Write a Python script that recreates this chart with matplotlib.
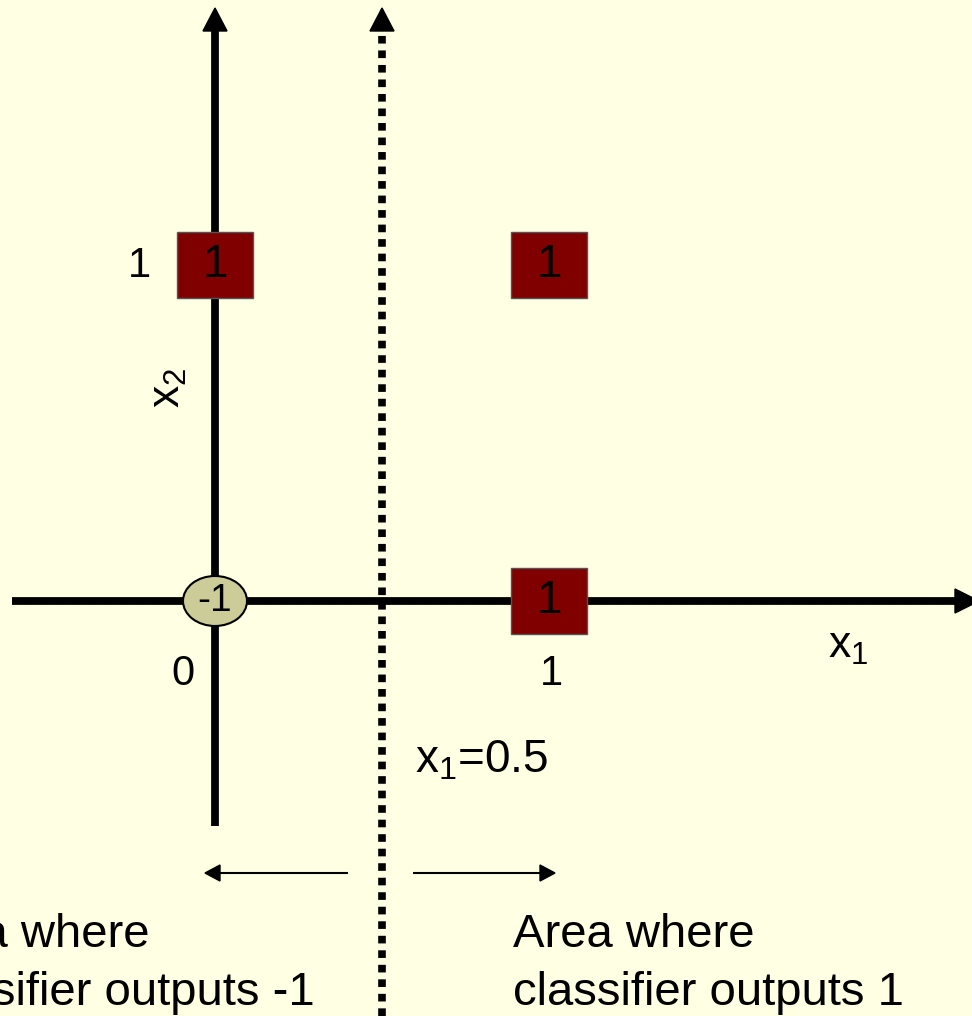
import matplotlib
matplotlib.use("Agg")
import matplotlib.pyplot as plt
from matplotlib.patches import Rectangle, Ellipse, Polygon
import numpy as np

plt.rcParams['font.family'] = ['Liberation Sans', 'DejaVu Sans']
plt.rcParams['mathtext.fontset'] = 'custom'
plt.rcParams['mathtext.rm'] = 'Liberation Sans'
plt.rcParams['mathtext.it'] = 'Liberation Sans'

# ── data: the four inputs and what the classifier outputs ──
x1_vals = [0, 0, 1, 1]
x2_vals = [0, 1, 0, 1]
targets = [-1, 1, 1, 1]
boundary_x1 = 0.5
xtick_vals = [0, 1]
xtick_labels = ["0", "1"]
ytick_vals = [1]
ytick_labels = ["1"]
left_text = ["Area where", "classifier outputs -1"]
right_text = ["Area where", "classifier outputs 1"]

BG = "#FFFFE3"
POS_COLOR = "#800000"
NEG_COLOR = "#CCCC99"

W, H = 972, 1016
X0, Y0 = 215, 601      # pixel of the origin
UX, UY = 334, 336      # pixels per unit

fig = plt.figure(figsize=(W / 100, H / 100), dpi=100)
fig.patch.set_facecolor(BG)
ax = fig.add_axes([0, 0, 1, 1])
ax.set_facecolor(BG)
ax.set_xlim(-X0 / UX, (W - X0) / UX)
ax.set_ylim((Y0 - H) / UY, Y0 / UY)
ax.axis("off")


def px(xp, yp):
    return (xp - X0) / UX, (Y0 - yp) / UY


def arrow(start, end, lw, hl, hw, ls="-", zorder=2):
    # head geometry is worked out in pixel units
    p0 = np.array([start[0] * UX, start[1] * UY])
    p1 = np.array([end[0] * UX, end[1] * UY])
    d = (p1 - p0) / np.hypot(*(p1 - p0))
    n = np.array([-d[1], d[0]])
    base = p1 - d * hl
    ax.plot([p0[0] / UX, base[0] / UX], [p0[1] / UY, base[1] / UY],
            color="black", lw=lw, ls=ls, solid_capstyle="butt",
            dash_capstyle="butt", zorder=zorder)
    tri = np.array([p1, base + n * hw, base - n * hw]) / [UX, UY]
    ax.add_patch(Polygon(tri, closed=True, color="black", zorder=zorder))


# axes
arrow(px(12, Y0), px(979, Y0), lw=5.6, hl=24, hw=12)
arrow(px(X0, 826), px(X0, 8), lw=5.6, hl=23, hw=12)

# decision boundary x1 = 0.5
arrow((boundary_x1, px(0, H)[1]), (boundary_x1, px(0, 8)[1]),
      lw=5.5, hl=23, hw=12, ls=(0, (1, 0.9)))

# small direction arrows
arrow(px(348, 873), px(205, 873), lw=1.5, hl=15, hw=8)
arrow(px(413, 873), px(555, 873), lw=1.5, hl=15, hw=8)

# points
sw, sh = 76 / UX, 66 / UY
for x, y, t in zip(x1_vals, x2_vals, targets):
    if t > 0:
        ax.add_patch(Rectangle((x - sw / 2, y - sh / 2), sw, sh,
                               facecolor=POS_COLOR, edgecolor="#555555",
                               lw=1, zorder=4))
        ax.text(x, y, str(t), fontsize=33, ha="center", va="center",
                color="black", zorder=5)
    else:
        ax.add_patch(Ellipse((x, y), 64 / UX, 50 / UY, facecolor=NEG_COLOR,
                             edgecolor="black", lw=1.5, zorder=4))
        ax.text(x, y, str(t), fontsize=28, ha="center", va="center",
                color="black", zorder=5)

# tick labels
offs = {0: (-32, -84), 1: (2, -84)}
for v, lab in zip(xtick_vals, xtick_labels):
    ax.annotate(lab, xy=(v, 0), xytext=offs[v], textcoords="offset pixels",
                fontsize=30, ha="center", va="baseline")
for v, lab in zip(ytick_vals, ytick_labels):
    ax.annotate(lab, xy=(0, v), xytext=(-76, -12), textcoords="offset pixels",
                fontsize=30, ha="center", va="baseline")

# axis labels
ax.text(*px(828, 658), r"$\mathregular{x_1}$", fontsize=32,
        ha="left", va="baseline")
ax.text(*px(180, 388), r"$\mathregular{x_2}$", fontsize=32, rotation=90,
        rotation_mode="anchor", ha="center", va="baseline")
ax.text(*px(415, 772), r"$\mathregular{x_1}$=0.5", fontsize=33,
        ha="left", va="baseline")

# region captions (the left one runs off the left edge, as in the original)
for i, (l, r) in enumerate(zip(left_text, right_text)):
    yb = 947 + i * 58
    ax.text(*px(-92, yb), l, fontsize=34, ha="left", va="baseline")
    ax.text(*px(513, yb), r, fontsize=34, ha="left", va="baseline")

fig.savefig("out.png", dpi=100, facecolor=BG)
